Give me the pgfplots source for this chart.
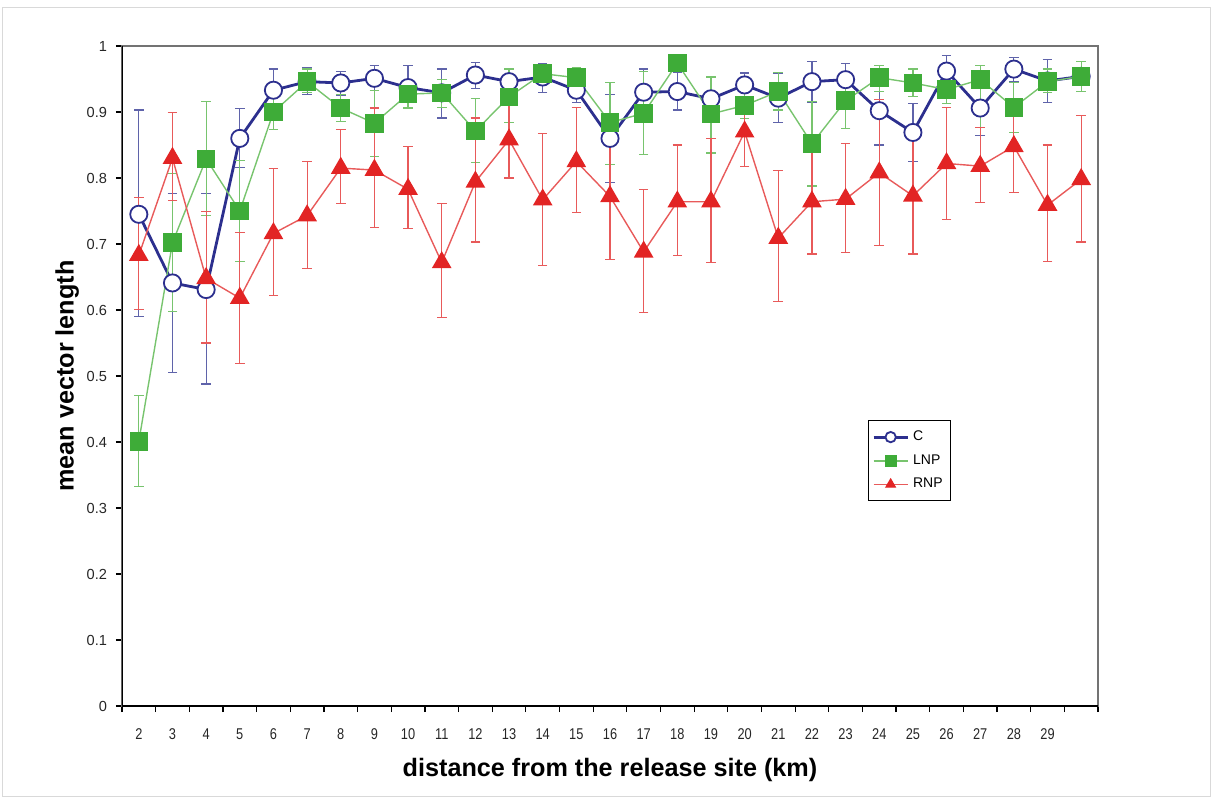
\documentclass[border=0pt]{standalone}
\usepackage{pgfplots}
\usepackage{pgfplotstable}
\pgfplotsset{compat=1.18}
\usepackage{fontspec}
\setmainfont{Liberation Sans}
\definecolor{cnavy}{RGB}{44,47,142}
\definecolor{cnavyl}{RGB}{95,99,170}
\definecolor{cgreen}{RGB}{62,172,56}
\definecolor{cgreenl}{RGB}{120,196,110}
\definecolor{cred}{RGB}{226,36,36}
\definecolor{credl}{RGB}{232,90,90}
\newcommand\sx[1]{\scalebox{0.82}[1]{#1}}

\pgfplotstableread{
x y ep em
0 0.745 0.158 0.155
1 0.641 0.136 0.136
2 0.631 0.146 0.143
3 0.860 0.045 0.044
4 0.933 0.032 0.032
5 0.946 0.022 0.020
6 0.944 0.017 0.019
7 0.951 0.020 0.019
8 0.937 0.033 0.031
9 0.929 0.036 0.038
10 0.956 0.019 0.020
11 0.946 0.019 0.019
12 0.953 0.020 0.024
13 0.933 0.019 0.019
14 0.860 0.067 0.067
15 0.930 0.035 0.035
16 0.931 0.029 0.028
17 0.920 0.033 0.033
18 0.941 0.018 0.019
19 0.921 0.037 0.037
20 0.946 0.030 0.031
21 0.949 0.025 0.025
22 0.902 0.051 0.052
23 0.869 0.044 0.044
24 0.962 0.024 0.025
25 0.906 0.041 0.042
26 0.965 0.018 0.019
27 0.947 0.032 0.033
28 0.954 0.023 0.023
}\tabC

\pgfplotstableread{
x y ep em
0 0.401 0.069 0.068
1 0.702 0.105 0.104
2 0.829 0.087 0.086
3 0.750 0.076 0.076
4 0.900 0.026 0.026
5 0.946 0.019 0.016
6 0.906 0.020 0.021
7 0.883 0.050 0.050
8 0.927 0.018 0.021
9 0.929 0.020 0.022
10 0.871 0.049 0.048
11 0.923 0.042 0.039
12 0.958 0.012 0.012
13 0.952 0.015 0.016
14 0.884 0.061 0.064
15 0.898 0.063 0.063
16 0.974 0.011 0.011
17 0.897 0.056 0.059
18 0.910 0.020 0.020
19 0.931 0.029 0.028
20 0.852 0.064 0.064
21 0.917 0.041 0.042
22 0.952 0.019 0.021
23 0.944 0.021 0.020
24 0.934 0.021 0.021
25 0.949 0.021 0.072
26 0.907 0.038 0.038
27 0.946 0.019 0.016
28 0.954 0.022 0.023
}\tabL

\pgfplotstableread{
x y ep em
0 0.683 0.087 0.082
1 0.830 0.069 0.064
2 0.648 0.101 0.098
3 0.618 0.099 0.099
4 0.716 0.098 0.094
5 0.743 0.082 0.080
6 0.815 0.059 0.054
7 0.812 0.094 0.087
8 0.783 0.065 0.060
9 0.672 0.089 0.083
10 0.794 0.097 0.091
11 0.858 0.057 0.058
12 0.767 0.101 0.099
13 0.825 0.082 0.077
14 0.772 0.095 0.095
15 0.688 0.095 0.092
16 0.764 0.086 0.082
17 0.764 0.096 0.092
18 0.870 0.052 0.053
19 0.709 0.102 0.096
20 0.764 0.081 0.079
21 0.768 0.084 0.081
22 0.808 0.111 0.110
23 0.773 0.088 0.088
24 0.822 0.085 0.085
25 0.818 0.058 0.055
26 0.848 0.067 0.070
27 0.759 0.091 0.086
28 0.798 0.097 0.095
}\tabR

\begin{document}
\begin{tikzpicture}
\useasboundingbox (-61pt,-46pt) rectangle (545.5pt,353pt);
\draw[gray!30, line width=0.5pt] (-59.5pt,-45pt) rectangle (544pt,349pt);
\begin{axis}[
  at={(0,0)}, anchor=south west,
  scale only axis, width=488pt, height=330pt,
  xmin=-0.5, xmax=28.5, ymin=0, ymax=1,
  axis line style={black!55, line width=0.6pt},
  tick align=outside, tick pos=left,
  xtick={0,...,27},
  xticklabels={\sx{2},\sx{3},\sx{4},\sx{5},\sx{6},\sx{7},\sx{8},\sx{9},\sx{10},\sx{11},\sx{12},\sx{13},\sx{14},\sx{15},\sx{16},\sx{17},\sx{18},\sx{19},\sx{20},\sx{21},\sx{22},\sx{23},\sx{24},\sx{25},\sx{26},\sx{27},\sx{28},\sx{29}},
  major x tick style={draw=none},
  minor xtick={-0.5,0.5,...,28.5},
  minor x tick style={black, line width=0.6pt},
  minor tick length=3pt,
  major tick length=3pt,
  ytick={0,0.1,0.2,0.3,0.4,0.5,0.6,0.7,0.8,0.9,1},
  yticklabels={0,0.1,0.2,0.3,0.4,0.5,0.6,0.7,0.8,0.9,1},
  major y tick style={black, line width=0.6pt},
  tick label style={font=\fontsize{7.3}{8}\selectfont, text=black!85},
  xticklabel style={yshift=-5pt, font=\fontsize{7.8}{8}\selectfont},
  yticklabel style={xshift=-1pt},
  xlabel={distance from the release site (km)},
  ylabel={mean vector length},
  label style={font=\fontsize{12.6}{14}\selectfont\bfseries},
  xlabel style={yshift=-2pt},
  ylabel style={yshift=-3pt},
  legend style={at={(rel axis cs:0.764,0.433)}, anchor=north west, draw=black, line width=0.5pt,
    font=\fontsize{7}{8}\selectfont, row sep=1.5pt, inner xsep=2pt, inner ysep=3pt},
  legend cell align=left,
  legend image code/.code={\draw[mark repeat=2,mark phase=2,#1,mark size=2.6pt]
     plot coordinates {(0cm,0cm)(0.3cm,0cm)(0.6cm,0cm)};},
]
\addplot[color=cnavy, line width=1.4pt, mark=*, mark size=4.3pt,
  mark options={fill=white, draw=cnavy, line width=0.9pt},
  error bars/.cd, y dir=both, y explicit,
  error bar style={cnavyl, line width=0.6pt},
  error mark options={rotate=90, mark size=2.4pt, cnavyl, line width=0.6pt}]
  table[x=x, y=y, y error plus=ep, y error minus=em] {\tabC};
\addlegendentry{C}
\addplot[color=cgreenl, line width=0.7pt, mark=square*, mark size=4.3pt,
  mark options={fill=cgreen, draw=cgreen},
  error bars/.cd, y dir=both, y explicit,
  error bar style={cgreenl, line width=0.6pt},
  error mark options={rotate=90, mark size=2.4pt, cgreenl, line width=0.6pt}]
  table[x=x, y=y, y error plus=ep, y error minus=em] {\tabL};
\addlegendentry{LNP}
\addplot[color=credl, line width=0.7pt, mark=triangle*, mark size=5pt,
  mark options={fill=cred, draw=cred},
  error bars/.cd, y dir=both, y explicit,
  error bar style={credl, line width=0.6pt},
  error mark options={rotate=90, mark size=2.4pt, credl, line width=0.6pt}]
  table[x=x, y=y, y error plus=ep, y error minus=em] {\tabR};
\addlegendentry{RNP}
\draw[black, line width=0.8pt] (rel axis cs:0,1) -- (rel axis cs:0,0) -- (rel axis cs:1,0);
\end{axis}
\end{tikzpicture}
\end{document}
